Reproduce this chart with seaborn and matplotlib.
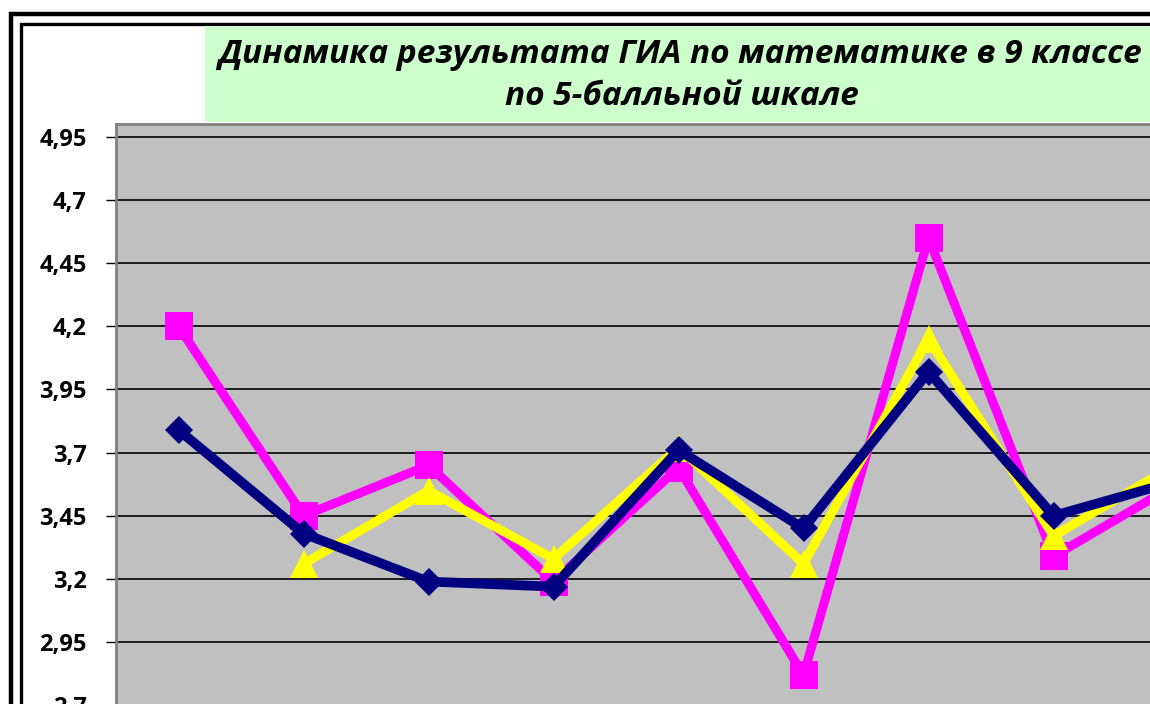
import numpy as np
import pandas as pd
import matplotlib
matplotlib.use("Agg")
import matplotlib.pyplot as plt
from matplotlib.patches import Rectangle
import seaborn as sns

# ---- data ----
categories = [1, 2, 3, 4, 5, 6, 7, 8, 9]
series_names = ["Ряд 1", "Ряд 2", "Ряд 3"]
magenta_vals = [4.20, 3.45, 3.65, 3.19, 3.64, 2.82, 4.55, 3.29, 3.58]
yellow_vals = [np.nan, 3.26, 3.55, 3.28, 3.72, 3.26, 4.15, 3.37, 3.66]
navy_vals = [3.79, 3.38, 3.19, 3.17, 3.71, 3.40, 4.02, 3.45, 3.59]
yticks = [2.45, 2.7, 2.95, 3.2, 3.45, 3.7, 3.95, 4.2, 4.45, 4.7, 4.95]
title_line1 = "Динамика результата ГИА по математике в 9 классе"
title_line2 = "по 5-балльной шкале"

sns.set_style("white")
plt.rcParams["font.family"] = ["Open Sans", "DejaVu Sans"]
plt.rcParams["text.color"] = "black"
plt.rcParams["ytick.color"] = "black"

W, H = 1150, 704
fig = plt.figure(figsize=(W / 100, H / 100), dpi=100)
fig.patch.set_facecolor("white")

# double black frame (extends past the cropped right/bottom edges)
fig.patches.append(Rectangle((11 / W, -0.2), 1.3, 1.2 - 14 / H, transform=fig.transFigure,
                             fill=False, edgecolor="black", linewidth=3.2, zorder=0))
fig.patches.append(Rectangle((21 / W, -0.2), 1.3, 1.2 - 24 / H, transform=fig.transFigure,
                             fill=False, edgecolor="black", linewidth=2.4, zorder=0))
# green title box
fig.patches.append(Rectangle((205 / W, 1 - 122 / H), (1160 - 205) / W, (122 - 26) / H,
                             transform=fig.transFigure, facecolor="#CCFFCC",
                             edgecolor="none", zorder=1))

# axes geometry in pixels
left_px, top_px = 116, 124
step_px = 125
ymax, ymin = 5.0, 2.45
px_per_unit = 252.8
ax_h = (ymax - ymin) * px_per_unit
ax_w = step_px * len(categories)
ax = fig.add_axes([left_px / W, (H - top_px - ax_h) / H, ax_w / W, ax_h / H])
ax.set_facecolor("#C0C0C0")

x = np.arange(len(categories))
df = pd.DataFrame({
    "x": np.tile(x, 3),
    "value": magenta_vals + yellow_vals + navy_vals,
    "series": np.repeat(series_names, len(categories)),
})

styles = [("#FF00FF", "s", 20, 6.5), ("#FFFF00", "^", 20, 6.5), ("#000080", "D", 14, 7.0)]
for i, (name, (col, mk, ms, lw)) in enumerate(zip(series_names, styles)):
    sub = df[df["series"] == name].dropna()
    sns.lineplot(data=sub, x="x", y="value", ax=ax, color=col, linewidth=lw,
                 marker=mk, markersize=ms, markeredgewidth=0, markerfacecolor=col,
                 zorder=3 + i, legend=False)

ax.set_xlim(-0.5, len(categories) - 0.5)
ax.set_ylim(ymin, ymax)
ax.set_yticks(yticks)
ax.set_yticklabels([("%g" % v).replace(".", ",") for v in yticks],
                   fontsize=17, fontweight="bold", color="black")
ax.set_xticks(x)
ax.set_xticklabels([])
ax.tick_params(axis="x", length=0)
ax.yaxis.grid(True, color="black", linewidth=1.2)
ax.xaxis.grid(False)
ax.tick_params(axis="y", direction="out", length=7, width=1, color="black", pad=14, left=True)
ax.set_xlabel("")
ax.set_ylabel("")
for s in ax.spines.values():
    s.set_color("#808080")
    s.set_linewidth(2)

fig.text(680 / W, 1 - 63 / H, title_line1, ha="center", va="baseline", color="black",
         fontsize=24, fontweight="bold", fontstyle="italic", zorder=5)
fig.text(682 / W, 1 - 105 / H, title_line2, ha="center", va="baseline", color="black",
         fontsize=24, fontweight="bold", fontstyle="italic", zorder=5)

fig.savefig("out.png", dpi=100)
